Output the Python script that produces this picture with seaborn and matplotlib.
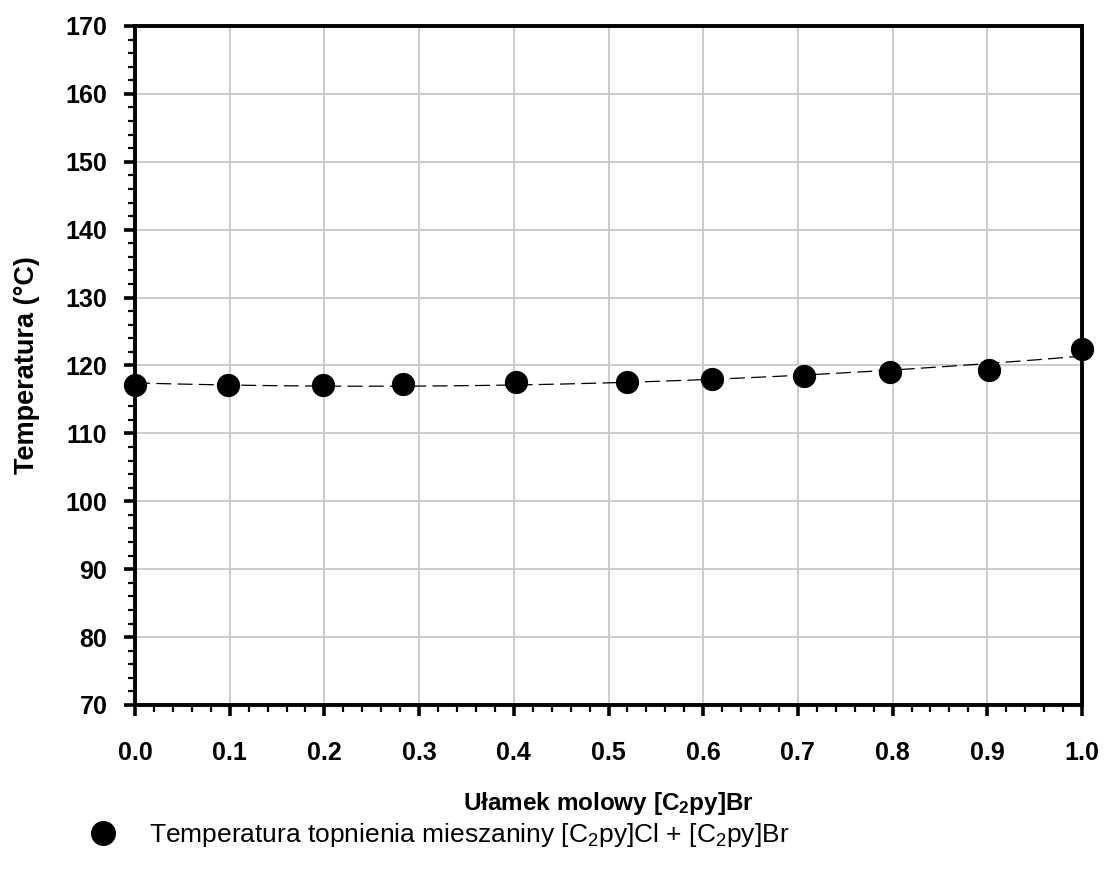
import numpy as np
import pandas as pd
import matplotlib
matplotlib.use("Agg")
import matplotlib.pyplot as plt
from matplotlib.ticker import MultipleLocator, FormatStrFormatter
from matplotlib.lines import Line2D
import seaborn as sns

# Mole fraction of [C2py]Br and measured melting temperature (°C)
mole_fraction = [0.0, 0.098, 0.198, 0.283, 0.402, 0.519, 0.609, 0.706, 0.797, 0.902, 1.0]
melting_temp = [117.1, 117.1, 117.1, 117.3, 117.5, 117.5, 118.0, 118.4, 119.0, 119.3, 122.4]

x_ticks = [0.0, 0.1, 0.2, 0.3, 0.4, 0.5, 0.6, 0.7, 0.8, 0.9, 1.0]
y_ticks = [70, 80, 90, 100, 110, 120, 130, 140, 150, 160, 170]

x_label = "Ułamek molowy [C$_2$py]Br"
y_label = "Temperatura (°C)"
legend_label = "Temperatura topnienia mieszaniny [C$_2$py]Cl + [C$_2$py]Br"

sns.set_theme(style="whitegrid")
plt.rcParams["font.family"] = ["Liberation Sans", "DejaVu Sans"]
plt.rcParams["mathtext.default"] = "regular"
plt.rcParams["text.color"] = "black"
plt.rcParams["axes.labelcolor"] = "black"
plt.rcParams["xtick.color"] = "black"
plt.rcParams["ytick.color"] = "black"

df = pd.DataFrame({"x": mole_fraction, "T": melting_temp})

# quadratic trend through the measurements
coef = np.polyfit(df["x"], df["T"], 2)
xs = np.linspace(0, 1, 200)
trend = pd.DataFrame({"x": xs, "T": np.polyval(coef, xs)})

fig = plt.figure(figsize=(11.05, 8.75), dpi=100)
ax = fig.add_axes([0.1222, 0.1943, 0.857, 0.776])

sns.lineplot(data=trend, x="x", y="T", ax=ax, color="black", lw=0.9, zorder=3)
ax.lines[-1].set_dashes((12, 5))
sns.scatterplot(data=df, x="x", y="T", ax=ax, color="black", s=280,
                edgecolor="black", linewidth=0, zorder=4, clip_on=False)

ax.set_xlim(0, 1.0)
ax.set_ylim(70, 170)
ax.set_xticks(x_ticks)
ax.set_yticks(y_ticks)
ax.xaxis.set_major_formatter(FormatStrFormatter("%.1f"))
ax.xaxis.set_minor_locator(MultipleLocator(0.02))
ax.yaxis.set_minor_locator(MultipleLocator(2))

ax.grid(True, which="major", color="#c8c8c8", lw=1.3)
ax.grid(False, which="minor")
ax.set_facecolor("white")
for sp in ax.spines.values():
    sp.set_color("black")
    sp.set_linewidth(2.8)

ax.tick_params(axis="both", which="major", direction="out", length=8, width=2.6,
               color="black", labelsize=18, labelcolor="black")
ax.tick_params(axis="x", which="major", pad=18)
ax.tick_params(axis="y", which="major", pad=12)
ax.tick_params(axis="both", which="minor", direction="out", length=5, width=1.6,
               color="black")
ax.tick_params(axis="x", which="both", bottom=True, top=False)
ax.tick_params(axis="y", which="both", left=True, right=False)
for lab in ax.get_xticklabels() + ax.get_yticklabels():
    lab.set_fontweight("bold")

ax.set_xlabel(x_label, fontsize=17.5, fontweight="bold", labelpad=18, color="black")
ax.set_ylabel(y_label, fontsize=19.5, fontweight="bold", labelpad=18, color="black")

handle = Line2D([], [], marker="o", color="black", linestyle="none", markersize=17)
fig.legend([handle], [legend_label], loc="center left",
           bbox_to_anchor=(0.054, 0.046), frameon=False, fontsize=19,
           handletextpad=1.0, handlelength=1.5, labelcolor="black")

fig.savefig("out.png", dpi=100)
